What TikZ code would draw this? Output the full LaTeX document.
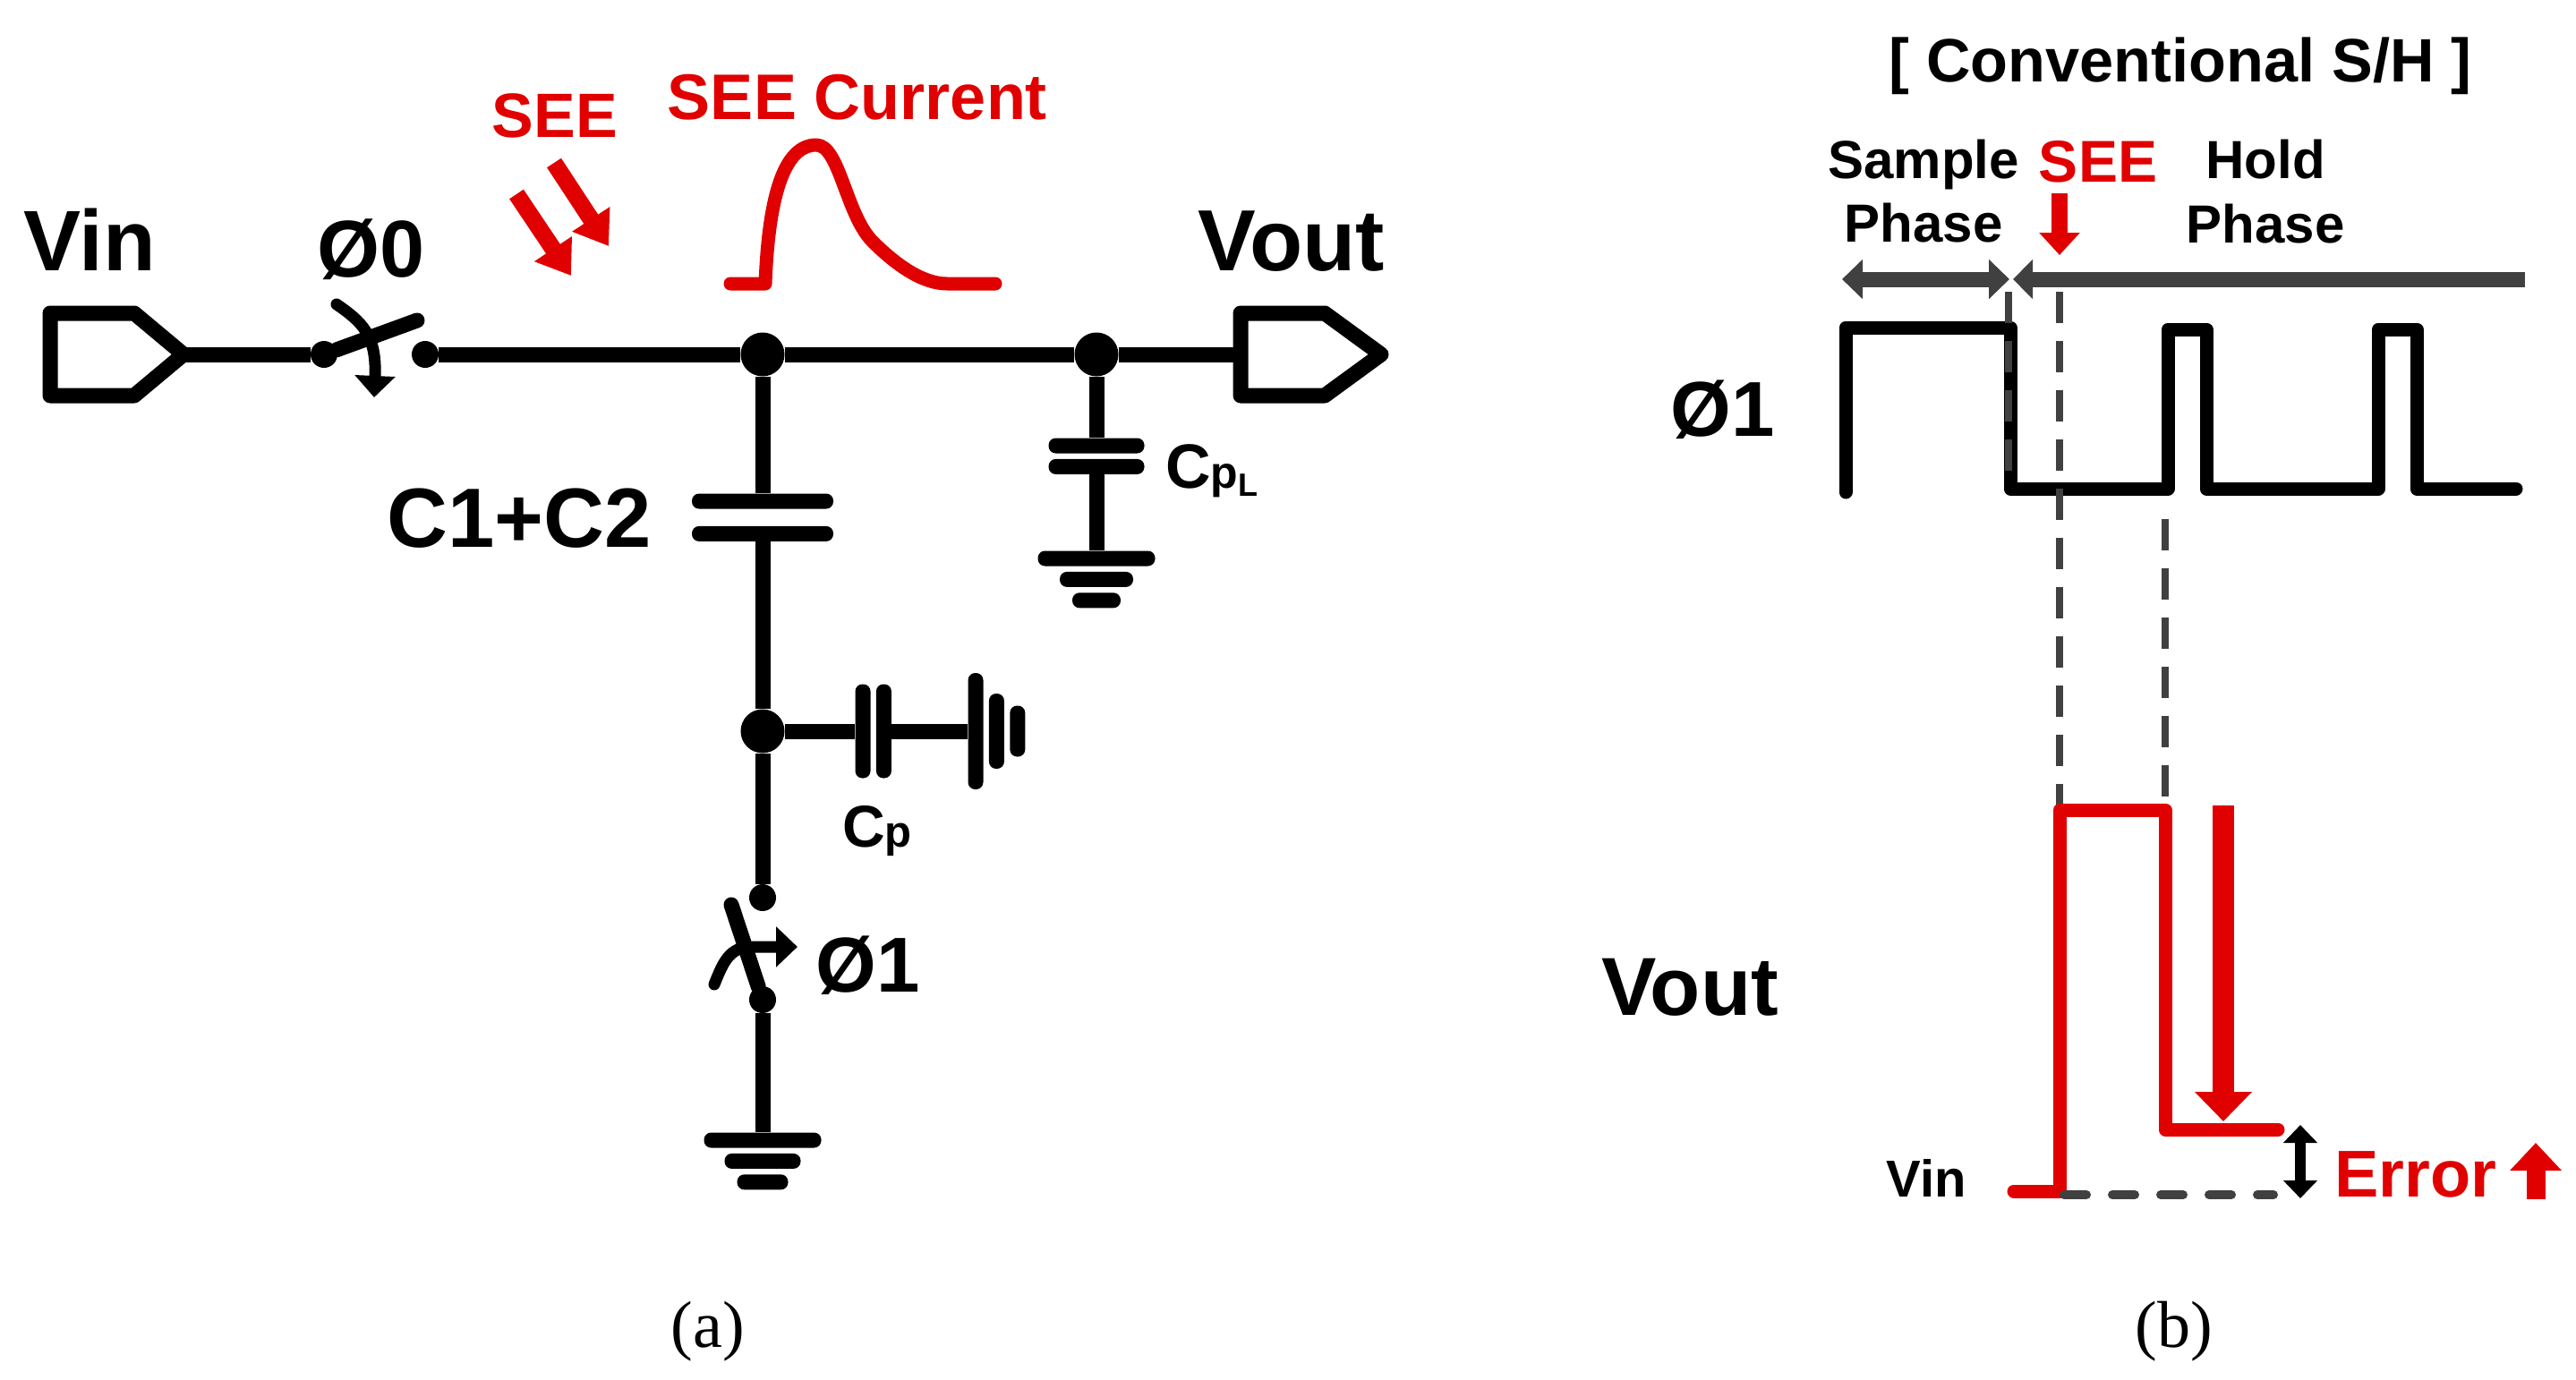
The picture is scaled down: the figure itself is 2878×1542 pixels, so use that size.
\documentclass[tikz,border=0pt]{standalone}
\usepackage{fontspec}
\setmainfont{Liberation Sans}
\newfontfamily\capfont{Liberation Serif}
\usetikzlibrary{positioning, arrows.meta, calc}
\definecolor{seered}{HTML}{E00000}
\definecolor{phasegray}{HTML}{404040}
\newcommand\lblsize[1]{\fontsize{#1}{#1}\selectfont\bfseries}

\begin{document}
\begin{tikzpicture}[x=1pt, y=-1pt]
  \newcommand\gndgap{6pt}
  \newcommand\wiresize{17pt}
  \newcommand\platesize{17pt}

  \tikzset{wire/.style={line width=\wiresize, line join=round}}
  \tikzset{ctrl/.style={line width=13pt, line cap=round, -{Triangle[length=24pt, width=44pt]}}}
  \tikzset{wave/.style={line width=15pt, line join=round, line cap=round}}
  \tikzset{junction/.style={circle, fill, inner sep=0pt, minimum size=49pt}}
  \tikzset{terminal/.style={circle, fill, inner sep=0pt, minimum size=30pt}}
  \tikzset{hbar/.style={rectangle, fill, rounded corners=8pt, inner sep=0pt, minimum height=\platesize}}
  \tikzset{vbar/.style={rectangle, fill, rounded corners=8pt, inner sep=0pt, minimum width=\platesize}}
  \tikzset{lbl/.style={inner sep=0pt, anchor=base, font=\lblsize{#1}}}
  \tikzset{redlbl/.style={lbl=#1, text=seered}}
  \tikzset{caption/.style={inner sep=0pt, anchor=base, font=\capfont\fontsize{74}{74}\selectfont}}
  \tikzset{rarrow/.style 2 args={seered, line width=#1, -{Triangle[length=#2*0.75, width=#2]}}}
  \tikzset{dashgray/.style={phasegray, line width=8pt, dash pattern=on 35pt off 20pt}}
  \tikzset{phasearrow/.style={phasegray, line width=17pt}}

  \useasboundingbox (0, 0) rectangle (2878, 1542);

  % input and output ports
  \draw[wire] (56, 350) -- (150, 350) -- (205, 396) coordinate (vintip) -- (150, 442) -- (56, 442) -- cycle;
  \draw[wire] (1386, 350) -- (1480, 350) -- (1543, 396) -- (1480, 442) -- (1386, 442) -- cycle;
  \coordinate (voutend) at (1386, 396);
  \node[lbl=96] (vin) at (100, 302) {Vin};
  \node[lbl=97] (vout) at (1443, 302) {Vout};

  % top rail
  \node[terminal] (sw0a) at (362, 396) {};
  \node[terminal] (sw0b) at (475, 396) {};
  \node[junction] (j1) at (852, 396) {};
  \node[junction] (j2) at (1225, 396) {};
  \draw[wire] (vintip) -- (sw0a);
  \draw[wire] (sw0b) -- (j1);
  \draw[wire] (j1) -- (j2);
  \draw[wire] (j2) -- (voutend);

  % sampling switch
  \coordinate (sw0end) at (466, 358);
  \coordinate (sw0ctl) at (376, 340);
  \coordinate (sw0tip) at (418, 444);
  \draw[wire, line cap=round] (sw0a) -- (sw0end);
  \draw[ctrl] (sw0ctl) .. controls (405, 360) and (421, 375) .. (sw0tip);
  \node[lbl=90] (phi0) at (415, 309) {Ø0};

  % event and current pulse
  \node[redlbl=70] (see) at (620, 153) {SEE};
  \node[redlbl=72] (seecur) at (958, 133) {SEE Current};
  \coordinate (hit1a) at (577, 217);
  \coordinate (hit1b) at (638, 308);
  \coordinate (hit2a) at (619, 182);
  \coordinate (hit2b) at (680, 275);
  \draw[rarrow={19pt}{48pt}] (hit1a) -- (hit1b);
  \draw[rarrow={19pt}{48pt}] (hit2a) -- (hit2b);
  \draw[seered, wave] (816, 317) -- (855, 317) .. controls (858, 240) and (870, 162) .. (912, 162)
    .. controls (938, 162) and (945, 240) .. (975, 270) .. controls (1000, 295) and (1030, 317) .. (1058, 317) -- (1112, 317);

  % load capacitor
  \node[hbar, minimum width=107pt] (cl-1) at (1225, 498) {};
  \node[hbar, minimum width=107pt, below=6pt of cl-1] (cl-2) {};
  \node[hbar, minimum width=131pt] (gndl-1) at (1225, 624) {};
  \foreach \w/\idx [count=\x from 1] in {82/2, 54/3}{
    \node[hbar, minimum width=\w pt, below=\gndgap of gndl-\x] (gndl-\idx) {};
  }
  \draw[wire] (j2) -- (cl-1);
  \draw[wire] (cl-2) -- (gndl-1);
  \node[lbl=70, anchor=base west] (cpl) at (1302, 545) {C\fontsize{50}{50}\selectfont p\raisebox{-9pt}{\fontsize{36}{36}\selectfont L}};

  % hold capacitor
  \node[hbar, minimum width=158pt] (c12-1) at (852, 560) {};
  \node[hbar, minimum width=158pt, below=19pt of c12-1] (c12-2) {};
  \node[junction] (j3) at (852, 817) {};
  \draw[wire] (j1) -- (c12-1);
  \draw[wire] (c12-2) -- (j3);
  \node[lbl=94] (c12) at (580, 611) {C1+C2};

  % parasitic capacitor
  \node[vbar, minimum height=105pt] (cp-1) at (964, 817) {};
  \node[vbar, minimum height=105pt, right=6pt of cp-1] (cp-2) {};
  \node[vbar, minimum height=130pt] (gndp-1) at (1090, 817) {};
  \foreach \h/\idx [count=\x from 1] in {84/2, 57/3}{
    \node[vbar, minimum height=\h pt, right=\gndgap of gndp-\x] (gndp-\idx) {};
  }
  \draw[wire] (j3) -- (cp-1);
  \draw[wire] (cp-2) -- (gndp-1);
  \node[lbl=66, anchor=base west] (cp) at (941, 946) {C\fontsize{49}{49}\selectfont p};

  % reset switch
  \node[terminal] (sw1a) at (852, 1003) {};
  \node[terminal] (sw1b) at (852, 1117) {};
  \node[hbar, minimum width=131pt] (gndr-1) at (852, 1274) {};
  \foreach \w/\idx [count=\x from 1] in {85/2, 57/3}{
    \node[hbar, minimum width=\w pt, below=\gndgap of gndr-\x] (gndr-\idx) {};
  }
  \coordinate (sw1end) at (817, 1011);
  \coordinate (sw1ctl) at (798, 1100);
  \coordinate (sw1tip) at (891, 1058);
  \draw[wire] (j3) -- (sw1a);
  \draw[wire, line cap=round] (sw1b) -- (sw1end);
  \draw[wire] (sw1b) -- (gndr-1);
  \draw[ctrl] (sw1ctl) .. controls (808, 1075) and (815, 1058) .. (840, 1058) -- (sw1tip);
  \node[lbl=87] (phi1l) at (970, 1108) {Ø1};

  % timing, title and phases
  \node[lbl=68.5] (title) at (2436, 91) {[ Conventional S/H ]};
  \node[lbl=60] (sample) at (2149, 199) {Sample};
  \node[lbl=60, below=15pt of sample] (sphase) {Phase};
  \node[redlbl=66] (see2) at (2344, 203) {SEE};
  \node[lbl=60] (hold) at (2531, 199) {Hold};
  \node[lbl=60, below=28pt of hold] (hphase) {Phase};
  \coordinate (seea) at (2301, 216);
  \coordinate (seeb) at (2301, 285);
  \draw[seered, line width=18pt, -{Triangle[length=25pt, width=44pt]}] (seea) -- (seeb);

  \coordinate (sl) at (2058, 312);
  \coordinate (sr) at (2245, 312);
  \coordinate (hl) at (2249, 312);
  \coordinate (hr) at (2821, 312);
  \draw[phasearrow, {Triangle[length=23pt, width=43pt]}-{Triangle[length=23pt, width=43pt]}] (sl) -- (sr);
  \draw[phasearrow, {Triangle[length=22pt, width=43pt]}-] (hl) -- (hr);

  % phi1 waveform
  \node[lbl=87] (phi1r) at (1925, 487) {Ø1};
  \draw[wave] (2062, 550) -- (2062, 366) -- (2246, 366) -- (2246, 546) -- (2422, 546) -- (2422, 368)
    -- (2465, 368) -- (2465, 546) -- (2657, 546) -- (2657, 368) -- (2700, 368) -- (2700, 546) -- (2811, 546);

  % vout waveform
  \node[lbl=92] (voutr) at (1888, 1134) {Vout};
  \coordinate (see1) at (2301, 326);
  \coordinate (see1b) at (2301, 905);
  \coordinate (edge1) at (2244, 326);
  \coordinate (edge1b) at (2244, 540);
  \coordinate (drop1) at (2419, 580);
  \coordinate (drop1b) at (2419, 890);
  \draw[dashgray] (see1) -- (see1b);
  \draw[dashgray] (edge1) -- (edge1b);
  \draw[dashgray] (drop1) -- (drop1b);
  \coordinate (base1) at (2306, 1335);
  \coordinate (base2) at (2540, 1335);
  \draw[seered, wave] (2250, 1331) -- (2301, 1331) -- (2301, 905) -- (2419, 905) -- (2419, 1262) -- (2545, 1262);
  \draw[dashgray, line width=10pt, line cap=round, dash pattern=on 25pt off 29pt] (base1) -- (base2);
  \coordinate (dropa) at (2484, 900);
  \coordinate (dropb) at (2484, 1253);
  \draw[seered, line width=24pt, -{Triangle[length=33pt, width=62pt]}] (dropa) -- (dropb);

  % error marks
  \coordinate (erra) at (2570, 1257);
  \coordinate (errb) at (2570, 1339);
  \draw[line width=12pt, {Triangle[length=20pt, width=37pt]}-{Triangle[length=20pt, width=37pt]}] (erra) -- (errb);
  \node[lbl=58] (vinr) at (2152, 1337) {Vin};
  \node[redlbl=74] (err) at (2699, 1337) {Error};
  \coordinate (upa) at (2833, 1340);
  \coordinate (upb) at (2833, 1277);
  \draw[seered, line width=21pt, -{Triangle[length=31pt, width=56pt]}] (upa) -- (upb);

  % captions
  \node[caption] (capa) at (791, 1505) {(a)};
  \node[caption] (capb) at (2429, 1505) {(b)};
\end{tikzpicture}
\end{document}
